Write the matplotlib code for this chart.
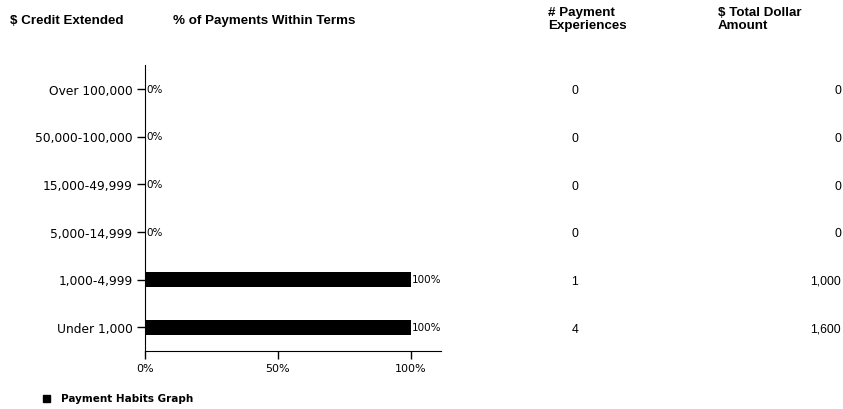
import matplotlib.pyplot as plt
import matplotlib.transforms as mtransforms

# Data
categories = ['Over 100,000', '50,000-100,000', '15,000-49,999', '5,000-14,999', '1,000-4,999', 'Under 1,000']
pct_within_terms = [0, 0, 0, 0, 100, 100]
payment_experiences = ['0', '0', '0', '0', '1', '4']
total_dollar = ['0', '0', '0', '0', '1,000', '1,600']
x_ticks = [0, 50, 100]
x_tick_labels = ['0%', '50%', '100%']

fig = plt.figure(figsize=(8.43, 4.10), dpi=100)
ax = fig.add_axes([145 / 843, 58 / 410, 296 / 843, 286 / 410])

ypos = list(range(len(categories)))
ax.barh(ypos, pct_within_terms, height=0.32, color='black')
ax.set_ylim(len(categories) - 0.5, -0.5)
ax.set_xlim(0, 111.3)
ax.set_yticks(ypos)
ax.set_yticklabels(categories, fontsize=8.8)
ax.set_xticks(x_ticks)
ax.set_xticklabels(x_tick_labels, fontsize=8)
ax.tick_params(axis='both', direction='out', length=6, width=1, pad=3)
ax.spines['top'].set_visible(False)
ax.spines['right'].set_visible(False)

for y, v in zip(ypos, pct_within_terms):
    ax.text(v + 0.5, y, '%d%%' % v, va='center', ha='left', fontsize=7.5)

# Table columns aligned to the bar rows
trans = mtransforms.blended_transform_factory(fig.transFigure, ax.transData)
for y, n, amt in zip(ypos, payment_experiences, total_dollar):
    fig.text(575 / 843, y + 0.03, n, transform=trans, ha='center', va='center',
             fontsize=8.8, family='Liberation Sans')
    fig.text(841 / 843, y + 0.03, amt, transform=trans, ha='right', va='center',
             fontsize=8.8, family='Liberation Sans')

# Headers
hdr = dict(fontsize=9.6, fontweight='bold', family='Liberation Sans', va='top', linespacing=1.12)
fig.text(10 / 843, 1 - 15 / 410, '$ Credit Extended', **hdr)
fig.text(173 / 843, 1 - 15 / 410, '% of Payments Within Terms', **hdr)
fig.text(548 / 843, 1 - 7 / 410, '# Payment\nExperiences', **hdr)
fig.text(718 / 843, 1 - 7 / 410, '$ Total Dollar\nAmount', **hdr)

# Legend
fig.patches.append(plt.Rectangle((43 / 843, 1 - 403 / 410), 7 / 843, 7 / 410,
                                 transform=fig.transFigure, color='black'))
fig.text(61 / 843, 1 - 399 / 410, 'Payment Habits Graph', fontsize=7.5,
         fontweight='bold', va='center', ha='left')

fig.savefig('out.png', dpi=100)
